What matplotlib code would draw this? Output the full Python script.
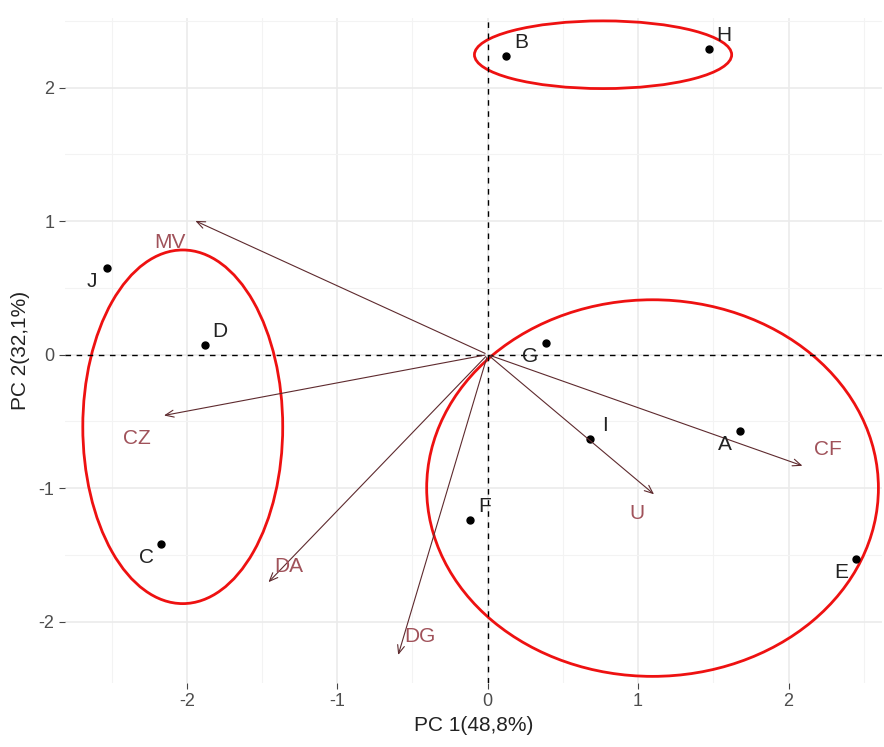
import matplotlib.pyplot as plt
from matplotlib.patches import Ellipse

plt.rcParams['font.family'] = ['Liberation Sans', 'DejaVu Sans']
plt.rcParams['axes.unicode_minus'] = False

# sample scores
samples = ['A', 'B', 'C', 'D', 'E', 'F', 'G', 'H', 'I', 'J']
pc1 = [1.68, 0.12, -2.17, -1.88, 2.45, -0.12, 0.385, 1.47, 0.68, -2.53]
pc2 = [-0.57, 2.24, -1.42, 0.07, -1.53, -1.24, 0.085, 2.29, -0.63, 0.65]
# label side: +1 right/up, -1 left/down
label_side = [-1, 1, -1, 1, -1, 1, -1, 1, 1, -1]

# variable loadings (arrow tips)
variables = ['MV', 'CZ', 'DA', 'DG', 'U', 'CF']
var_x = [-1.96, -2.17, -1.47, -0.60, 1.12, 2.11]
var_y = [1.01, -0.46, -1.72, -2.27, -1.06, -0.84]
var_lab_x = [-2.11, -2.33, -1.32, -0.45, 0.99, 2.26]
var_lab_y = [0.84, -0.63, -1.59, -2.11, -1.19, -0.71]

# hand-drawn group ellipses: centre x, centre y, width, height
ell_cx = [0.767, -2.027, 1.096]
ell_cy = [2.246, -0.541, -1.0]
ell_w = [1.71, 1.329, 3.003]
ell_h = [0.507, 2.649, 2.821]

fig = plt.figure(figsize=(8.84, 7.47), dpi=100)
ax = fig.add_axes([0.0735, 0.0857, 0.924, 0.890])

ax.set_xlim(-2.81, 2.62)
ax.set_ylim(-2.46, 2.52)

# ggplot-like grid
ax.set_xticks([-2, -1, 0, 1, 2])
ax.set_yticks([-2, -1, 0, 1, 2])
ax.set_xticks([-2.5, -1.5, -0.5, 0.5, 1.5, 2.5], minor=True)
ax.set_yticks([-1.5, -0.5, 0.5, 1.5, 2.5], minor=True)
ax.grid(which='major', color='#EBEBEB', lw=1.2)
ax.grid(which='minor', color='#F3F3F3', lw=0.8)
ax.set_axisbelow(True)
for s in ax.spines.values():
    s.set_visible(False)
ax.tick_params(which='major', length=4, color='#444444', labelcolor='#4D4D4D', labelsize=13)
ax.tick_params(which='minor', length=0)

ax.axhline(0, color='black', ls=(0, (4, 4)), lw=1)
ax.axvline(0, color='black', ls=(0, (4, 4)), lw=1)

# variable arrows
for name, x, y, lx, ly in zip(variables, var_x, var_y, var_lab_x, var_lab_y):
    ax.annotate('', xy=(x, y), xytext=(0, 0),
                arrowprops=dict(arrowstyle='->,head_length=0.6,head_width=0.25',
                                color='#5E2A2E', lw=0.8))
    ax.text(lx, ly, name, color='#A0525A', fontsize=15, ha='center', va='center')

# sample points
ax.plot(pc1, pc2, 'o', color='black', ms=5)
for name, x, y, side in zip(samples, pc1, pc2, label_side):
    ax.text(x + side * 0.1, y + side * 0.1, name, fontsize=15, color='#222222',
            ha='center', va='center')

for cx, cy, w, h in zip(ell_cx, ell_cy, ell_w, ell_h):
    ax.add_patch(Ellipse((cx, cy), w, h, fill=False, edgecolor='#EE1111',
                         lw=2, clip_on=False))

ax.set_xlabel('PC 1(48,8%)', fontsize=15, color='#222222', labelpad=4)
ax.set_ylabel('PC 2(32,1%)', fontsize=15, color='#222222', labelpad=6)

fig.savefig('out.png', dpi=100)
